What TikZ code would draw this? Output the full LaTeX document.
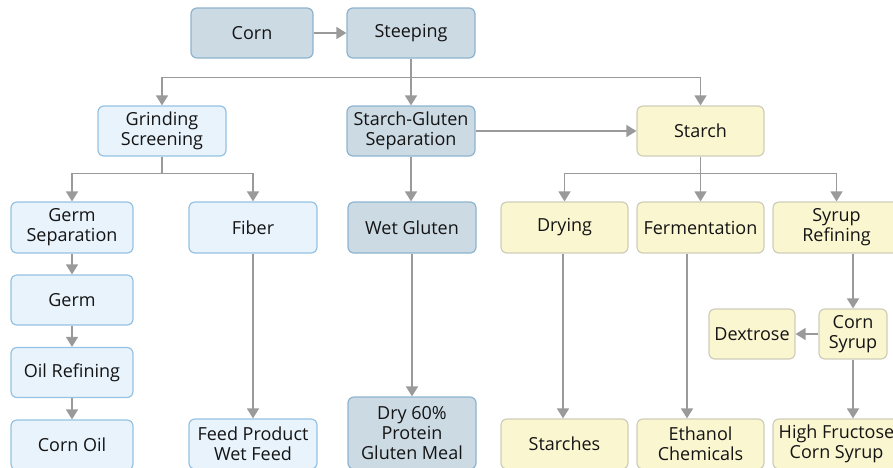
\documentclass[tikz,border=0pt]{standalone}
\usepackage{fontspec}
\setmainfont{Open Sans}
\usetikzlibrary{arrows.meta}
\definecolor{dbfill}{HTML}{CCDAE4}
\definecolor{dbline}{HTML}{8DB3CF}
\definecolor{lbfill}{HTML}{E8F3FC}
\definecolor{lbline}{HTML}{95C2E2}
\definecolor{yfill}{HTML}{FAF6D0}
\definecolor{yline}{HTML}{CFCDBA}
\definecolor{arrgray}{HTML}{9A9A9A}
\tikzset{
  box/.style={rectangle, rounded corners=6pt, line width=1.2pt, inner sep=0pt,
    align=center, font=\fontsize{18}{20}\selectfont, text=black!92,
    minimum height=50pt, minimum width=127pt},
  darkbox/.style={box, fill=dbfill, draw=dbline},
  lightbox/.style={box, fill=lbfill, draw=lbline},
  yelbox/.style={box, fill=yfill, draw=yline},
  arr/.style={draw=arrgray, line width=1.5pt, -{Triangle[width=12pt,length=10pt]}},
  ln/.style={draw=arrgray, line width=1.5pt}
}
\begin{document}
\begin{tikzpicture}[x=1pt,y=-1pt]
\useasboundingbox (0,0) rectangle (893,467);
\clip (0,0) rectangle (893,467);
% row 1
\node[darkbox, minimum width=122pt] (corn) at (252,33) {Corn};
\node[darkbox, minimum width=128pt] (steep) at (411,33) {Steeping};
% row 2
\node[lightbox, minimum width=128pt] (grind) at (162,131) {Grinding\\Screening};
\node[darkbox, minimum width=128pt] (sgs) at (411,131) {Starch-Gluten\\Separation};
\node[yelbox] (starch) at (700.5,131) {Starch};
% row 3
\node[lightbox, minimum width=122pt, minimum height=51pt] (germsep) at (72,227.5) {Germ\\Separation};
\node[lightbox, minimum width=128pt, minimum height=51pt] (fiber) at (253,227.5) {Fiber};
\node[darkbox, minimum width=128pt, minimum height=51pt] (wetgl) at (412,227.5) {Wet Gluten};
\node[yelbox, minimum height=51pt] (drying) at (564.5,227.5) {Drying};
\node[yelbox, minimum height=51pt] (ferm) at (700.5,227.5) {Fermentation};
\node[yelbox, minimum height=51pt] (syrupref) at (836.5,227.5) {Syrup\\Refining};
% left column
\node[lightbox, minimum width=122pt] (germ) at (72,300) {Germ};
\node[lightbox, minimum width=122pt] (oil) at (72,372.5) {Oil Refining};
\node[lightbox, minimum width=122pt] (cornoil) at (72,445) {Corn Oil};
% middle right
\node[yelbox, minimum width=86pt] (dextrose) at (752,334) {Dextrose};
\node[yelbox, minimum width=68pt] (cornsyrup) at (853,334) {Corn\\Syrup};
% bottom row
\node[lightbox, minimum width=128pt] (feed) at (253,444) {Feed Product\\Wet Feed};
\node[darkbox, minimum width=128pt, minimum height=72pt] (dry) at (412,433) {Dry 60\%\\Protein\\Gluten Meal};
\node[yelbox] (starches) at (564.5,444) {Starches};
\node[yelbox] (ethanol) at (700.5,444) {Ethanol\\Chemicals};
\node[yelbox] (hfcs) at (836.5,444) {High Fructose\\Corn Syrup};
% connectors
\draw[arr] (corn) -- (steep);
\draw[ln] (steep.south) -- ++(0,19) coordinate (b1);
\draw[arr] (b1) -- (sgs.north);
\draw[arr] (b1) -| (grind.north);
\draw[arr] (b1) -| (starch.north);
\draw[ln] (grind.south) -- ++(0,17) coordinate (b2);
\draw[arr] (b2) -| (germsep.north);
\draw[arr] (b2) -| (fiber.north);
\draw[arr] (sgs.south) -- (sgs.south |- wetgl.north);
\draw[arr] (sgs.east) -- (starch.west);
\draw[ln] (starch.south) -- ++(0,17) coordinate (b3);
\draw[arr] (b3) -| (drying.north);
\draw[arr] (b3) -- (ferm.north);
\draw[arr] (b3) -| (syrupref.north);
\draw[arr] (germsep) -- (germ);
\draw[arr] (germ) -- (oil);
\draw[arr] (oil) -- (cornoil);
\draw[arr] (fiber.south) -- (fiber.south |- feed.north);
\draw[arr] (wetgl.south) -- (wetgl.south |- dry.north);
\draw[arr] ([xshift=-1.5pt]drying.south) -- ([xshift=-1.5pt]starches.north);
\draw[arr] ([xshift=-13.5pt]ferm.south) -- ([xshift=-13.5pt]ethanol.north);
\draw[arr] (cornsyrup.north |- syrupref.south) -- (cornsyrup.north);
\draw[arr] (cornsyrup.west) -- (dextrose.east);
\draw[arr] (cornsyrup.south) -- (cornsyrup.south |- hfcs.north);
\end{tikzpicture}
\end{document}
